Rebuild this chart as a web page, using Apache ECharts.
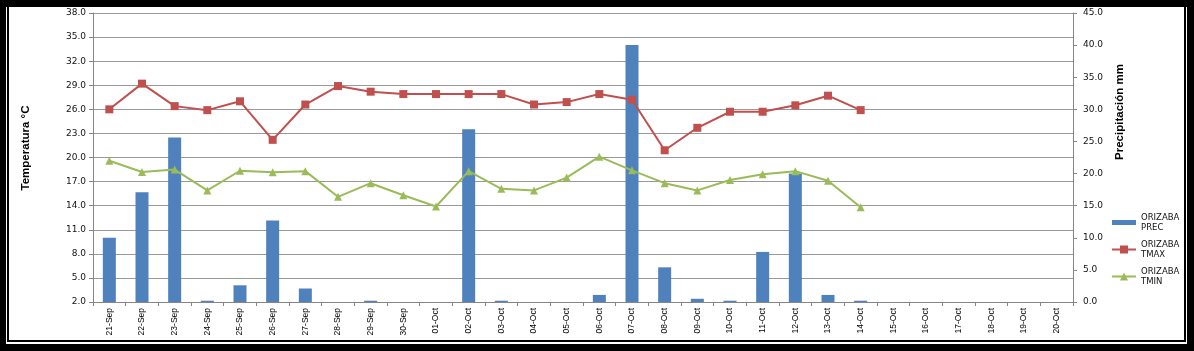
<!DOCTYPE html>
<html>
<head>
<meta charset="utf-8">
<script src="https://cdn.jsdelivr.net/npm/echarts@6/dist/echarts.min.js"></script>
<style>
body{margin:0;background:#fff;}
#chart{position:absolute;left:0;top:0;width:1194px;height:351px;}
.b{position:absolute;background:#000;}
</style>
</head>
<body>
<div id="chart"></div>
<div class="b" style="left:0;top:0;width:1194px;height:7px"></div>
<div class="b" style="left:0;top:0;width:6px;height:351px"></div>
<div class="b" style="left:7px;top:7px;width:2px;height:335px"></div>
<div class="b" style="left:7px;top:340px;width:1179px;height:2px"></div>
<div class="b" style="left:0;top:344px;width:1194px;height:7px"></div>
<div class="b" style="left:1184px;top:6px;width:2px;height:336px"></div>
<div class="b" style="left:1187px;top:0;width:7px;height:351px"></div>
<script>
let days=["21-Sep","22-Sep","23-Sep","24-Sep","25-Sep","26-Sep","27-Sep","28-Sep","29-Sep","30-Sep",
	"01-Oct","02-Oct","03-Oct","04-Oct","05-Oct","06-Oct","07-Oct","08-Oct","09-Oct","10-Oct",
	"11-Oct","12-Oct","13-Oct","14-Oct","15-Oct","16-Oct","17-Oct","18-Oct","19-Oct","20-Oct"];
let prec=[10.0,17.1,25.6,0.2,2.6,12.7,2.1,0,0.2,0,
	0,26.9,0.2,0,0,1.1,40.0,5.4,0.5,0.2,
	7.8,20.0,1.1,0.2,null,null,null,null,null,null];
let tmax=[26.0,29.2,26.4,25.9,27.0,22.2,26.6,28.9,28.2,27.9,
	27.9,27.9,27.9,26.6,26.9,27.9,27.2,20.9,23.7,25.7,
	25.7,26.5,27.7,25.9,null,null,null,null,null,null];
let tmin=[19.6,18.2,18.5,15.9,18.35,18.15,18.3,15.1,16.8,15.3,
	13.9,18.3,16.1,15.9,17.5,20.1,18.4,16.8,15.9,17.2,
	17.9,18.3,17.1,13.8,null,null,null,null,null,null];

let chart=echarts.init(document.getElementById('chart'));

let axisFont={fontFamily:"DejaVu Sans",fontSize:9,color:"#111"};

chart.setOption({
	animation:false,
	backgroundColor:"#fff",
	grid:{left:93,right:121,top:13,bottom:49},
	legend:{
		orient:"vertical",
		left:1106,
		top:203,
		itemWidth:24,
		itemHeight:10,
		itemGap:-2,
		textStyle:{fontFamily:"DejaVu Sans",fontSize:8.5,color:"#111",lineHeight:10,padding:[9,0,0,0]},
		data:[
			{name:"ORIZABA\nPREC",icon:"path://M0,0H24V5H0Z"},
			{name:"ORIZABA\nTMAX"},
			{name:"ORIZABA\nTMIN"},
		],
	},
	xAxis:{
		type:"category",
		data:days,
		boundaryGap:true,
		axisLine:{lineStyle:{color:"#868686"}},
		axisTick:{show:true,length:4,lineStyle:{color:"#868686"}},
		axisLabel:{rotate:90,interval:0,margin:6,fontFamily:"Liberation Sans",fontSize:8.5,color:"#000"},
	},
	yAxis:[
		{
			type:"value",
			min:2,
			max:38,
			interval:3,
			axisLine:{show:true,lineStyle:{color:"#868686"}},
			axisTick:{show:true,length:4,lineStyle:{color:"#868686"}},
			axisLabel:Object.assign({margin:7,formatter:function(v){return v.toFixed(1);}},axisFont),
			splitLine:{show:true,lineStyle:{color:"#999"}},
		},
		{
			type:"value",
			min:0,
			max:45,
			interval:5,
			position:"right",
			axisLine:{show:true,lineStyle:{color:"#868686"}},
			axisTick:{show:true,length:4,lineStyle:{color:"#868686"}},
			axisLabel:Object.assign({margin:10,formatter:function(v){return v.toFixed(1);}},axisFont),
			splitLine:{show:false},
		},
	],
	graphic:[
		{type:"text",x:26,y:148,rotation:Math.PI/2,
			style:{text:"Temperatura °C",font:"bold 11.5px 'Liberation Sans'",fill:"#000",align:"center",verticalAlign:"middle"}},
		{type:"text",x:1120,y:112,rotation:Math.PI/2,
			style:{text:"Precipitación mm",font:"bold 11.5px 'Liberation Sans'",fill:"#000",align:"center",verticalAlign:"middle"}},
	],
	series:[
		{
			name:"ORIZABA\nPREC",
			type:"bar",
			yAxisIndex:1,
			data:prec,
			barWidth:13,
			itemStyle:{color:"#4f81bd"},
		},
		{
			name:"ORIZABA\nTMAX",
			type:"line",
			yAxisIndex:0,
			data:tmax,
			symbol:"rect",
			symbolSize:8,
			itemStyle:{color:"#c0504d"},
			lineStyle:{color:"#c0504d",width:2},
		},
		{
			name:"ORIZABA\nTMIN",
			type:"line",
			yAxisIndex:0,
			data:tmin,
			symbol:"triangle",
			symbolSize:8,
			itemStyle:{color:"#9bbb59"},
			lineStyle:{color:"#9bbb59",width:2},
		},
	],
});
</script>
</body>
</html>
